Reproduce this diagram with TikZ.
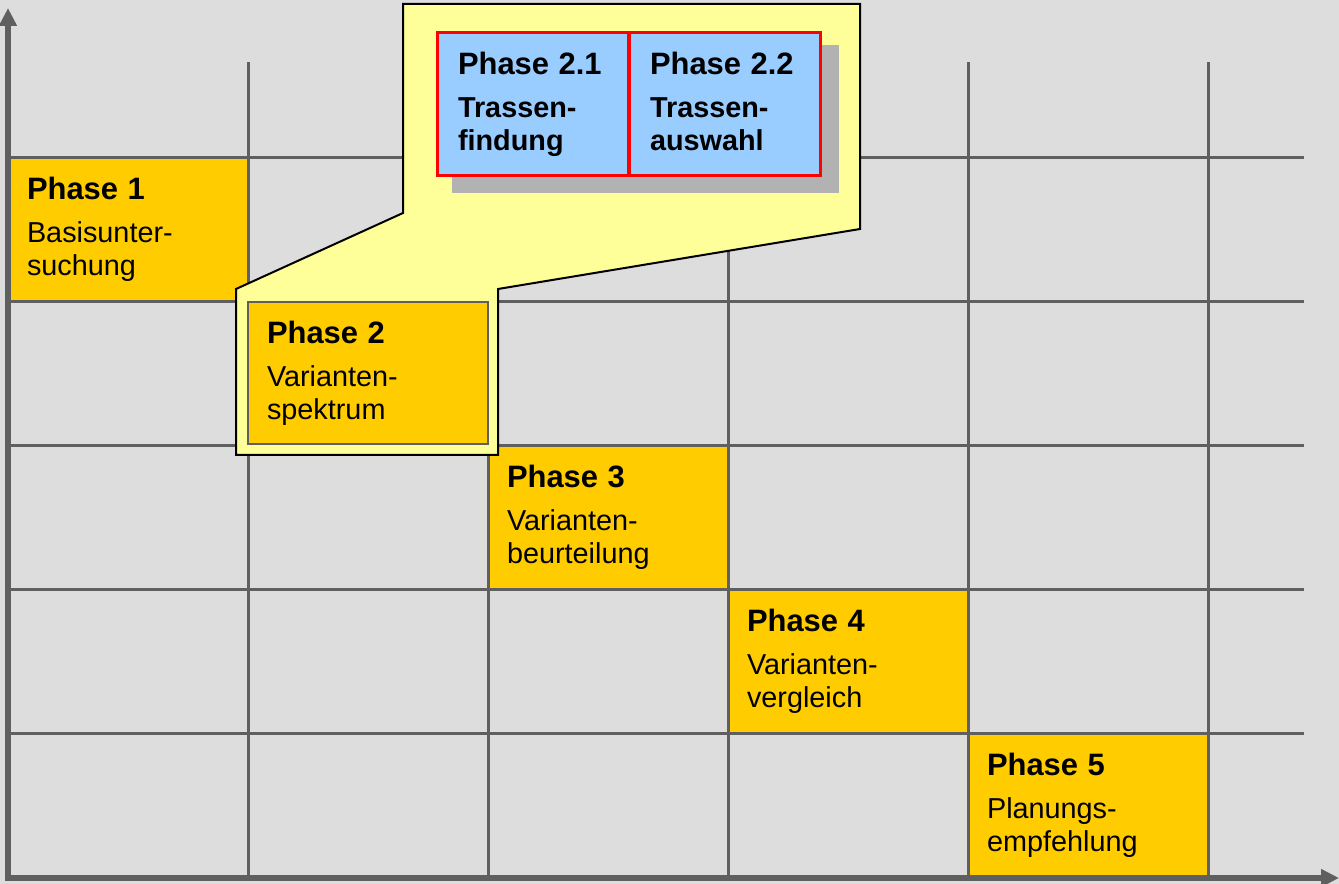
\documentclass[tikz,border=0pt]{standalone}
\usepackage{fontspec}
\setmainfont{Liberation Sans}
\usetikzlibrary{arrows.meta}
\definecolor{bgGray}{HTML}{DDDDDD}
\definecolor{gridGray}{HTML}{5F5F5F}
\definecolor{phaseOrange}{HTML}{FFCC00}
\definecolor{calloutYellow}{HTML}{FFFF99}
\definecolor{subBlue}{HTML}{99CCFF}
\definecolor{shadowGray}{HTML}{B2B2B2}
\newcommand{\phasehead}[1]{{\fontsize{17.6pt}{18.8pt}\selectfont\bfseries #1}\\[5.6pt]}
\tikzset{
	phasebox/.style={rectangle, fill=phaseOrange, minimum width=4.8cm, minimum height=2.88cm,
		text width=4.04cm, inner xsep=0.38cm, inner ysep=0pt, align=left,
		font=\fontsize{16.4pt}{18.8pt}\selectfont},
	subbox/.style={phasebox, fill=subBlue, draw=red, line width=0.06cm, minimum width=3.84cm,
		text width=3.0cm, inner xsep=0.42cm, font=\fontsize{16.4pt}{18.8pt}\selectfont\bfseries},
	gridline/.style={gridGray, line width=0.06cm},
	axisline/.style={gridGray, line width=0.11cm, -{Triangle[length=0.36cm,width=0.34cm]}},
	callout/.style={fill=calloutYellow, draw=black, line width=0.04cm, line join=miter},
}
\begin{document}
\begin{tikzpicture}[x=0.02cm, y=-0.02cm]
		%%%%% START %%%%%
		
		\fill[bgGray] (0, 0) rectangle (1339, 884);
		\useasboundingbox (0, 0) rectangle (1339, 884);
		
		% phases on the diagonal
		\node[phasebox] (p1) at (128, 229.5) {\phasehead{Phase 1}Basisunter-\\suchung};
		\node[phasebox] (p3) at (608, 517.5) {\phasehead{Phase 3}Varianten-\\beurteilung};
		\node[phasebox] (p4) at (848, 661.5) {\phasehead{Phase 4}Varianten-\\vergleich};
		\node[phasebox] (p5) at (1088, 805.5) {\phasehead{Phase 5}Planungs-\\empfehlung};
		
		% grid
		\foreach \x in {248, 488, 728, 968, 1208}
			\draw[gridline] (\x, 62) -- (\x, 878);
		\foreach \y in {157.5, 301.5, 445.5, 589.5, 733.5}
			\draw[gridline] (8, \y) -- (1304, \y);
		
		\draw[axisline] (8, 881) -- (8, 8);
		\draw[axisline] (5, 878) -- (1339, 878);
		
		% callout with phase 2
		\draw[callout] (403, 4) -- (860, 4) -- (860, 229) -- (498, 289) -- (498, 455)
			-- (236, 455) -- (236, 289) -- (403, 213) -- cycle;
		\node[phasebox, draw=gridGray, line width=0.04cm, minimum width=4.76cm, minimum height=2.84cm] (p2) at (368, 373)
			{\phasehead{Phase 2}Varianten-\\spektrum};
		
		\fill[shadowGray] (452, 45) rectangle (839, 193);
		\node[subbox] (p21) at (533, 104) {\phasehead{Phase 2.1}Trassen-\\findung};
		\node[subbox] (p22) at (725, 104) {\phasehead{Phase 2.2}Trassen-\\auswahl\vphantom{g}};
		
		%%%%% END %%%%%
\end{tikzpicture}
\end{document}
